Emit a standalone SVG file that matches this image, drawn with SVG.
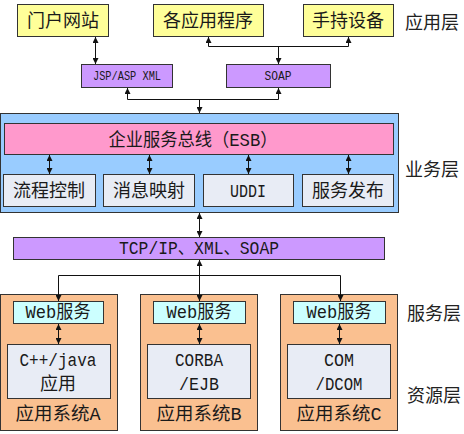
<svg xmlns="http://www.w3.org/2000/svg" width="464" height="434" viewBox="0 0 464 434">
<defs>
<marker id="ah" viewBox="0 0 6 6" refX="6" refY="3" markerWidth="6" markerHeight="6" markerUnits="userSpaceOnUse" orient="auto-start-reverse">
<path d="M0,0 L6,3 L0,6 z" fill="#111"/>
</marker>
<style>
text{font-family:"Liberation Mono","Noto Sans CJK SC",monospace;fill:#1a1a1a;text-anchor:middle}
.t{font-size:18px}
.s{font-size:12px}
.lay{font-family:"Noto Sans CJK SC",sans-serif;font-size:18px;text-anchor:start;fill:#222}
.box{stroke:#333;stroke-width:1}
.yel{fill:#FFFF99}
.pur{fill:#CC99FF}
.blu{fill:#99CCFF}
.pnk{fill:#FF99CC}
.gry{fill:#E8ECF5}
.org{fill:#FAC090}
.cyn{fill:#CCFFFF}
.c{fill:none;stroke:#111;stroke-width:1}
.bi{marker-start:url(#ah);marker-end:url(#ah)}
.e{marker-end:url(#ah)}
</style>
</defs>

<g id="app-portal"><rect class="box yel" x="17.5" y="4.5" width="91" height="32"/><text class="t" x="63" y="27">门户网站</text></g>
<g id="app-programs"><rect class="box yel" x="153.5" y="4.5" width="110" height="32"/><text class="t" x="208" y="27">各应用程序</text></g>
<g id="app-handheld"><rect class="box yel" x="303.5" y="4.5" width="90" height="32"/><text class="t" x="348" y="27">手持设备</text></g>
<g id="jsp"><rect class="box pur" x="81.5" y="64.5" width="91" height="23"/><text class="s" x="127" y="80" textLength="68" lengthAdjust="spacingAndGlyphs">JSP/ASP XML</text></g>
<g id="soap"><rect class="box pur" x="226.5" y="64.5" width="104" height="23"/><text class="s" x="278" y="80" textLength="27" lengthAdjust="spacingAndGlyphs">SOAP</text></g>

<g id="business-layer">
<rect class="box blu" x="0.5" y="113.5" width="398" height="99"/>
</g>
<g id="esb"><rect class="box pnk" x="4.5" y="123.5" width="389" height="31"/><text class="t" x="193" y="146" textLength="169" lengthAdjust="spacingAndGlyphs">企业服务总线（ESB）</text></g>
<g id="flow"><rect class="box gry" x="3.5" y="174.5" width="92" height="32"/><text class="t" x="49" y="197">流程控制</text></g>
<g id="msg"><rect class="box gry" x="103.5" y="174.5" width="91" height="32"/><text class="t" x="149" y="197">消息映射</text></g>
<g id="uddi"><rect class="box gry" x="203.5" y="174.5" width="90" height="32"/><text class="t" x="248" y="197" textLength="36" lengthAdjust="spacingAndGlyphs">UDDI</text></g>
<g id="publish"><rect class="box gry" x="302.5" y="174.5" width="91" height="32"/><text class="t" x="348" y="197">服务发布</text></g>

<g id="protocol"><rect class="box pur" x="13.5" y="237.5" width="371" height="22"/><text class="t" x="199" y="254" textLength="160" lengthAdjust="spacingAndGlyphs">TCP/IP、XML、SOAP</text></g>

<g id="sysA">
<rect class="box org" x="0.5" y="294.5" width="117" height="136"/>
<rect class="box cyn" x="13.5" y="301.5" width="90" height="22"/><text class="t" x="58" y="318" textLength="65" lengthAdjust="spacingAndGlyphs">Web服务</text>
<rect class="box gry" x="7.5" y="344.5" width="103" height="54"/>
<text class="t" x="58" y="366" textLength="77" lengthAdjust="spacingAndGlyphs">C++/java</text>
<text class="t" x="58" y="390">应用</text>
<text class="t" x="58" y="420" textLength="85" lengthAdjust="spacingAndGlyphs">应用系统A</text>
</g>
<g id="sysB">
<rect class="box org" x="140.5" y="294.5" width="117" height="136"/>
<rect class="box cyn" x="153.5" y="301.5" width="92" height="22"/><text class="t" x="199" y="318" textLength="65" lengthAdjust="spacingAndGlyphs">Web服务</text>
<rect class="box gry" x="147.5" y="344.5" width="103" height="54"/>
<text class="t" x="199" y="366" textLength="48" lengthAdjust="spacingAndGlyphs">CORBA</text>
<text class="t" x="199" y="390" textLength="40" lengthAdjust="spacingAndGlyphs">/EJB</text>
<text class="t" x="199" y="420" textLength="85" lengthAdjust="spacingAndGlyphs">应用系统B</text>
</g>
<g id="sysC">
<rect class="box org" x="280.5" y="294.5" width="117" height="136"/>
<rect class="box cyn" x="293.5" y="301.5" width="92" height="22"/><text class="t" x="339" y="318" textLength="65" lengthAdjust="spacingAndGlyphs">Web服务</text>
<rect class="box gry" x="287.5" y="344.5" width="103" height="54"/>
<text class="t" x="339" y="366" textLength="30" lengthAdjust="spacingAndGlyphs">COM</text>
<text class="t" x="339" y="390" textLength="47" lengthAdjust="spacingAndGlyphs">/DCOM</text>
<text class="t" x="339" y="420" textLength="85" lengthAdjust="spacingAndGlyphs">应用系统C</text>
</g>

<g id="layer-labels">
<text class="lay" x="405" y="29">应用层</text>
<text class="lay" x="405" y="176">业务层</text>
<text class="lay" x="407" y="320">服务层</text>
<text class="lay" x="407" y="402">资源层</text>
</g>

<g id="connectors">
<line class="c bi" x1="95.5" y1="37" x2="95.5" y2="64"/>
<path class="c" d="M208.5,37 V46.5 H348.5 V37" marker-start="url(#ah)" marker-end="url(#ah)"/>
<line class="c e" x1="278.5" y1="46.5" x2="278.5" y2="64"/>
<path class="c" d="M127.5,88 V99.5 H278.5 V88" marker-start="url(#ah)" marker-end="url(#ah)"/>
<line class="c e" x1="199.5" y1="99.5" x2="199.5" y2="113"/>
<line class="c bi" x1="49.5" y1="155" x2="49.5" y2="174"/>
<line class="c bi" x1="149.5" y1="155" x2="149.5" y2="174"/>
<line class="c bi" x1="248.5" y1="155" x2="248.5" y2="174"/>
<line class="c bi" x1="348.5" y1="155" x2="348.5" y2="174"/>
<line class="c bi" x1="199.5" y1="213" x2="199.5" y2="237"/>
<line class="c bi" x1="199.5" y1="260" x2="199.5" y2="301"/>
<path class="c e" d="M199.5,275.5 H58.5 V301"/>
<path class="c e" d="M199.5,275.5 H340.5 V301"/>
<line class="c bi" x1="58.5" y1="324" x2="58.5" y2="344"/>
<line class="c bi" x1="199.5" y1="324" x2="199.5" y2="344"/>
<line class="c bi" x1="339.5" y1="324" x2="339.5" y2="344"/>
</g>
</svg>
